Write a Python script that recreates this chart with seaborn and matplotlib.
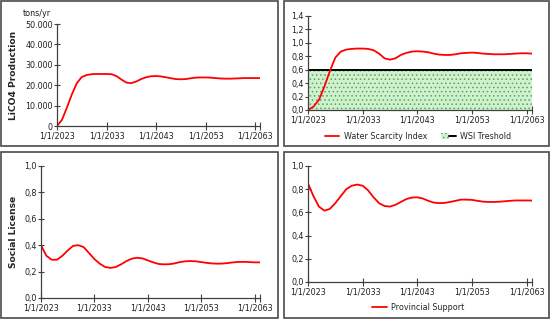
import numpy as np
import pandas as pd
import matplotlib
matplotlib.use("Agg")
import matplotlib.pyplot as plt
import seaborn as sns
from matplotlib.patches import Rectangle, Patch
from matplotlib.lines import Line2D
from matplotlib.legend_handler import HandlerTuple
from matplotlib.ticker import FuncFormatter

years = list(range(2023, 2065))

lico4_production = [0, 3000, 9000, 15500, 21000, 24000, 25000, 25400, 25500, 25500,
                    25500, 25400, 24500, 22800, 21300, 21000, 21800, 23000, 23900, 24400,
                    24500, 24300, 23900, 23400, 23000, 22900, 23000, 23400, 23700, 23800,
                    23800, 23700, 23500, 23300, 23200, 23200, 23300, 23400, 23500, 23500,
                    23500, 23500]

water_scarcity = [0.0, 0.05, 0.15, 0.35, 0.58, 0.78, 0.87, 0.90, 0.91, 0.915,
                  0.915, 0.91, 0.89, 0.84, 0.77, 0.75, 0.77, 0.82, 0.85, 0.87,
                  0.875, 0.87, 0.86, 0.84, 0.825, 0.82, 0.82, 0.83, 0.845, 0.85,
                  0.855, 0.85, 0.84, 0.835, 0.83, 0.83, 0.83, 0.835, 0.84, 0.845,
                  0.845, 0.84]

wsi_threshold = 0.6

social_license = [0.40, 0.32, 0.29, 0.29, 0.32, 0.36, 0.395, 0.40, 0.385, 0.34,
                  0.295, 0.26, 0.235, 0.228, 0.235, 0.255, 0.28, 0.298, 0.305, 0.30,
                  0.285, 0.27, 0.258, 0.255, 0.256, 0.262, 0.272, 0.278, 0.28, 0.278,
                  0.272, 0.266, 0.262, 0.26, 0.261, 0.265, 0.27, 0.273, 0.274, 0.272,
                  0.27, 0.27]

provincial_support = [0.85, 0.74, 0.65, 0.615, 0.63, 0.68, 0.74, 0.80, 0.83, 0.84,
                      0.83, 0.79, 0.73, 0.68, 0.655, 0.65, 0.665, 0.69, 0.715, 0.728,
                      0.73, 0.72, 0.70, 0.685, 0.68, 0.682, 0.69, 0.70, 0.71, 0.71,
                      0.708, 0.70, 0.693, 0.69, 0.69, 0.692, 0.696, 0.70, 0.703, 0.703,
                      0.703, 0.702]

tick_years = [2023, 2033, 2043, 2053, 2063]
tick_labels = ["1/1/2023", "1/1/2033", "1/1/2043", "1/1/2053", "1/1/2063"]

sns.set_style("white")
plt.rcParams['font.family'] = ['DejaVu Sans']
plt.rcParams['hatch.linewidth'] = 0.6

W, H = 551, 321
fig = plt.figure(figsize=(W / 100, H / 100), dpi=100)
fig.patch.set_facecolor("white")

def px_axes(x0, y0, x1, y1):
    return fig.add_axes([x0 / W, 1 - y1 / H, (x1 - x0) / W, (y1 - y0) / H])

def box(x0, y0, x1, y1):
    fig.patches.append(Rectangle((x0 / W, 1 - y1 / H), (x1 - x0) / W, (y1 - y0) / H,
                                 transform=fig.transFigure, fill=False,
                                 edgecolor="#4a4a4a", linewidth=1.2))

box(1, 1, 278, 146)
box(284, 1, 549, 146)
box(1, 152, 278, 318)
box(284, 152, 549, 318)

FS = 5.8
axcol = "#404040"

def style(ax, ylim, yticks, fmt):
    ax.set_xlim(2023, 2064)
    ax.set_ylim(*ylim)
    ax.set_xticks(tick_years)
    ax.set_xticklabels(tick_labels)
    ax.set_xticks([2064], minor=True)
    ax.set_yticks(yticks)
    ax.yaxis.set_major_formatter(FuncFormatter(fmt))
    for s in ["top", "right"]:
        ax.spines[s].set_visible(False)
    for s in ["left", "bottom"]:
        ax.spines[s].set_color(axcol)
        ax.spines[s].set_linewidth(0.9)
    ax.tick_params(axis="both", which="both", direction="inout", length=6, width=0.8,
                   color=axcol, labelsize=FS, labelcolor="#202020", pad=1.0,
                   bottom=True, left=True)
    ax.tick_params(axis="y", length=4)
    ax.set_xlabel("")
    ax.set_ylabel("")
    ax.patch.set_alpha(0)

dec_fmt = lambda v, p: f"{v:.1f}".replace(".", ",")
thou_fmt = lambda v, p: f"{int(round(v)):,}".replace(",", ".")

# Top-left
ax1 = px_axes(57, 24, 260, 126)
df1 = pd.DataFrame({"year": years, "value": lico4_production})
sns.lineplot(data=df1, x="year", y="value", ax=ax1, color="red", linewidth=1.3, legend=False)
style(ax1, (0, 50000), [0, 10000, 20000, 30000, 40000, 50000], thou_fmt)
fig.text(23 / W, 1 - 13 / H, "tons/yr", fontsize=FS, va="center", ha="left", color="#202020")
fig.text(13 / W, 1 - 75 / H, "LiCO4 Production", fontsize=6.6, fontweight="bold",
         rotation=90, va="center", ha="center")

# Top-right
ax2 = px_axes(308, 16, 532, 110)
ax2.fill_between(years, 0, wsi_threshold, facecolor="#cdf3cd", edgecolor="#6a9a6a",
                 hatch="....", linewidth=0)
ax2.axhline(wsi_threshold, color="black", linewidth=1.4)
df2 = pd.DataFrame({"year": years, "value": water_scarcity})
sns.lineplot(data=df2, x="year", y="value", ax=ax2, color="red", linewidth=1.3, legend=False)
style(ax2, (0, 1.4), [0, 0.2, 0.4, 0.6, 0.8, 1.0, 1.2, 1.4], dec_fmt)
h_wsi = Line2D([], [], color="red", linewidth=1.3)
h_thr = (Patch(facecolor="#cdf3cd", edgecolor="#6a9a6a", hatch="....", linewidth=0),
         Line2D([], [], color="black", linewidth=1.4))
fig.legend([h_wsi, h_thr], ["Water Scarcity Index", "WSI Treshold"],
           handler_map={tuple: HandlerTuple(ndivide=None, pad=0)},
           loc="center", bbox_to_anchor=(418 / W, 1 - 136 / H), ncol=2, frameon=False,
           fontsize=FS, handlelength=1.8, handletextpad=0.5, columnspacing=1.8,
           borderpad=0)

# Bottom-left
ax3 = px_axes(41, 166, 260, 298)
df3 = pd.DataFrame({"year": years, "value": social_license})
sns.lineplot(data=df3, x="year", y="value", ax=ax3, color="red", linewidth=1.3, legend=False)
style(ax3, (0, 1.0), [0, 0.2, 0.4, 0.6, 0.8, 1.0], dec_fmt)
fig.text(13 / W, 1 - 232 / H, "Social License", fontsize=6.6, fontweight="bold",
         rotation=90, va="center", ha="center")

# Bottom-right
ax4 = px_axes(308, 166, 532, 282)
df4 = pd.DataFrame({"year": years, "value": provincial_support})
sns.lineplot(data=df4, x="year", y="value", ax=ax4, color="red", linewidth=1.3, legend=False)
style(ax4, (0, 1.0), [0, 0.2, 0.4, 0.6, 0.8, 1.0], dec_fmt)
fig.legend([Line2D([], [], color="red", linewidth=1.3)], ["Provincial Support"],
           loc="center", bbox_to_anchor=(418 / W, 1 - 307 / H), frameon=False,
           fontsize=FS, handlelength=1.8, handletextpad=0.5, borderpad=0)

fig.savefig("out.png", dpi=100, facecolor="white")
